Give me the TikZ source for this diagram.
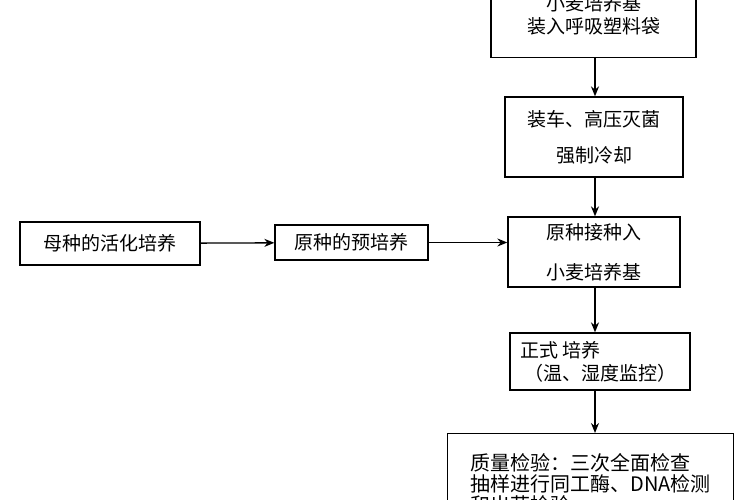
\documentclass[tikz,border=0pt]{standalone}
\usepackage{fontspec}
\setmainfont{Noto Sans CJK SC}
\usetikzlibrary{arrows.meta}
\begin{document}
\begin{tikzpicture}[x=1pt,y=1pt,yscale=-1,
  box/.style={draw,line width=1.3pt,inner sep=2pt,align=center,font=\fontsize{19}{23}\selectfont},
  flow/.style={-{Stealth[length=10pt,width=8pt]},line width=1.3pt}]
\useasboundingbox (0,0) rectangle (750,500);
\clip (0,0) rectangle (750,500);

% right column
\node[box,minimum width=205,minimum height=85] (bag) at (593.5,15) {小麦培养基\\装入呼吸塑料袋};
\node[box,minimum width=178,minimum height=80,font=\fontsize{19}{36}\selectfont] (ster) at (594,137) {装车、高压灭菌\\强制冷却};
\node[box,minimum width=172,minimum height=70,font=\fontsize{19}{40}\selectfont] (inoc) at (594,252) {原种接种入\\小麦培养基};
\node[box,minimum width=180,minimum height=57,font=\fontsize{19}{23}\selectfont] (cult) at (600,361.5) {\makebox[160pt][l]{正式 培养}\\（温、湿度监控）};
\node[box,minimum width=286,minimum height=100,align=left,anchor=north west,inner xsep=10pt,inner ysep=1pt,font=\fontsize{20}{21}\selectfont] (qc) at (447,433) {质量检验：三次全面检查\\抽样进行同工酶、DNA检测\\和出菇检验};

% left row
\node[box,minimum width=180,minimum height=43] (mother) at (110,243.5) {母种的活化培养};
\node[box,minimum width=153,minimum height=35] (pre) at (351.5,242.5) {原种的预培养};

% connectors
\draw[flow] (bag.south -| 595,0) -- (ster.north -| 595,0);
\draw[flow] (ster.south -| 595,0) -- (inoc.north -| 595,0);
\draw[flow] (inoc.south -| 595,0) -- (cult.north -| 595,0);
\draw[flow] (cult.south -| 595,0) -- (qc.north -| 595,0);
\draw[flow] (mother) -- (pre);
\draw[flow] (pre.east) -- (inoc.west |- pre.east);
\end{tikzpicture}
\end{document}
